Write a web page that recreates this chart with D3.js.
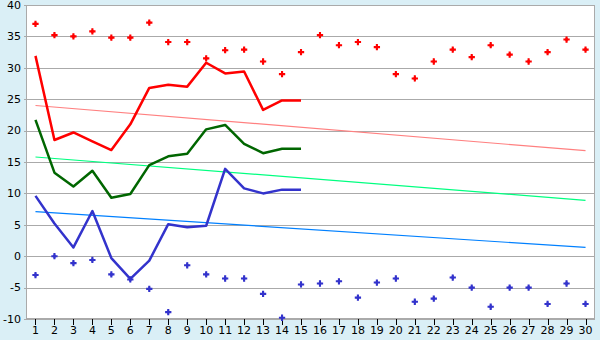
<!DOCTYPE html>
<html>
<head>
<meta charset="utf-8">
<script src="https://cdn.jsdelivr.net/npm/d3@7"></script>
<style>
  html, body { margin: 0; padding: 0; background: #daeff6; }
  svg { display: block; font-family: "DejaVu Sans", Verdana, sans-serif; }
</style>
</head>
<body>
<svg id="chart" width="600" height="340"></svg>
<script>
// --- DATA ---
const days = d3.range(1, 31);
const yTicks = [-10, -5, 0, 5, 10, 15, 20, 25, 30, 35, 40];

const redLine = [31.9, 18.5, 19.7, 18.3, 16.9, 21.0, 26.8, 27.3, 27.0, 30.8, 29.1, 29.4, 23.3, 24.8, 24.8];
const greenLine = [21.7, 13.3, 11.1, 13.6, 9.3, 9.9, 14.5, 15.9, 16.3, 20.2, 20.9, 17.9, 16.4, 17.1, 17.1];
const blueLine = [9.6, 5.2, 1.4, 7.2, -0.3, -3.6, -0.7, 5.1, 4.6, 4.85, 13.9, 10.8, 10.0, 10.6, 10.6];

const redMarks = [37.0, 35.2, 35.0, 35.8, 34.8, 34.8, 37.2, 34.1, 34.1, 31.5, 32.8, 32.9, 31.0, 29.0, 32.5,
                  35.2, 33.6, 34.1, 33.3, 29.0, 28.3, 31.0, 32.9, 31.7, 33.6, 32.1, 31.0, 32.5, 34.5, 32.9];
const blueMarks = [-3.0, 0.0, -1.1, -0.6, -2.9, -3.7, -5.2, -8.9, -1.45, -2.9, -3.55, -3.55, -6.0, -9.8, -4.5,
                   -4.35, -4.0, -6.6, -4.2, -3.55, -7.25, -6.75, -3.4, -5.0, -8.05, -5.0, -5.0, -7.6, -4.35, -7.6];

// trend lines: value at day 1 and day 30
const trendRed = [24.0, 16.8];
const trendGreen = [15.8, 8.9];
const trendBlue = [7.1, 1.4];

// --- LAYOUT ---
const svg = d3.select("#chart");
const margin = {top: 5, right: 5, bottom: 21, left: 26};
const width = 600 - margin.left - margin.right;
const height = 340 - margin.top - margin.bottom;

const x = d3.scaleBand().domain(days).range([0, width]);
const y = d3.scaleLinear().domain([-10, 40]).range([height, 0]);
const cx = d => x(d) + x.bandwidth() / 2;

const g = svg.append("g").attr("transform", `translate(${margin.left},${margin.top})`);

g.append("rect")
  .attr("width", width).attr("height", height)
  .attr("fill", "#fff");

// gridlines
g.append("g")
  .selectAll("line")
  .data(yTicks)
  .join("line")
  .attr("x1", -2).attr("x2", width)
  .attr("y1", d => Math.round(y(d)) + 0.5).attr("y2", d => Math.round(y(d)) + 0.5)
  .attr("stroke", "#aaa");

// border
g.append("rect")
  .attr("x", 0.5).attr("y", 0.5)
  .attr("width", width - 1).attr("height", height - 1)
  .attr("fill", "none").attr("stroke", "#aaa");

// y axis labels
g.append("g")
  .selectAll("text")
  .data(yTicks)
  .join("text")
  .attr("x", -5)
  .attr("y", d => y(d))
  .attr("dy", "0.35em")
  .attr("text-anchor", "end")
  .attr("font-size", 11)
  .attr("fill", "#000")
  .text(d => d);

// x axis
const xAxis = g.append("g").attr("transform", `translate(0,${height})`);
xAxis.selectAll("line")
  .data(days)
  .join("line")
  .attr("x1", d => Math.round(cx(d)) + 0.5).attr("x2", d => Math.round(cx(d)) + 0.5)
  .attr("y1", 0).attr("y2", 6)
  .attr("stroke", "#000");
xAxis.selectAll("text")
  .data(days)
  .join("text")
  .attr("x", d => cx(d))
  .attr("y", 15)
  .attr("text-anchor", "middle")
  .attr("font-size", 11)
  .attr("fill", "#000")
  .text(d => d);

// trend lines
const trends = [
  {vals: trendRed, color: "#ff8080"},
  {vals: trendGreen, color: "#00ff80"},
  {vals: trendBlue, color: "#0080ff"}
];
g.append("g")
  .selectAll("line")
  .data(trends)
  .join("line")
  .attr("x1", cx(1)).attr("x2", cx(30))
  .attr("y1", d => y(d.vals[0])).attr("y2", d => y(d.vals[1]))
  .attr("stroke", d => d.color)
  .attr("stroke-width", 1.2);

// main lines
const line = d3.line()
  .x((d, i) => cx(days[i]))
  .y(d => y(d));

const series = [
  {vals: redLine, color: "#ff0000"},
  {vals: greenLine, color: "#006600"},
  {vals: blueLine, color: "#3333cc"}
];
g.append("g")
  .selectAll("path")
  .data(series)
  .join("path")
  .attr("d", d => line(d.vals))
  .attr("fill", "none")
  .attr("stroke", d => d.color)
  .attr("stroke-width", 2.5)
  .attr("stroke-linejoin", "round");

// markers: small plus with a fuller centre
const cross = d3.symbol().type(d3.symbolCross).size(22);
const diamond = d3.symbol().type(d3.symbolDiamond).size(10);
function drawMarks(vals, color) {
  const m = g.append("g")
    .selectAll("g")
    .data(vals)
    .join("g")
    .attr("transform", (d, i) => `translate(${cx(days[i])},${y(d)})`)
    .attr("fill", color);
  m.append("path").attr("d", cross);
  m.append("path").attr("d", diamond);
}
drawMarks(redMarks, "#ff0000");
drawMarks(blueMarks, "#3333cc");
</script>
</body>
</html>
